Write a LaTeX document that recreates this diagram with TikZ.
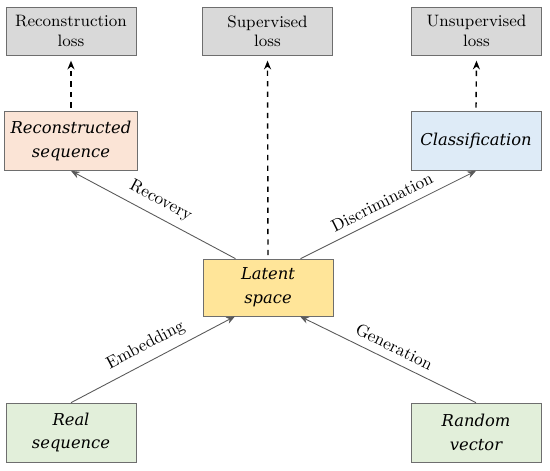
\documentclass[tikz,border=0pt]{standalone}
\usepackage{fontspec}
\usepackage{tikz}
\usetikzlibrary{arrows.meta, positioning}
\newfontfamily\itbox{DejaVu Serif}
\definecolor{lossgray}{RGB}{217,217,217}
\definecolor{recpeach}{RGB}{251,228,214}
\definecolor{clsblue}{RGB}{222,235,247}
\definecolor{latyellow}{RGB}{255,229,153}
\definecolor{inpgreen}{RGB}{226,239,218}
\definecolor{edgegray}{RGB}{110,110,110}

\begin{document}
\begin{tikzpicture}[
  >={Stealth[length=5pt,width=4pt]},
  lossbox/.style={
    draw=edgegray, rectangle, fill=lossgray,
    minimum width=2.6cm, minimum height=0.96cm,
    align=center, font=\fontsize{9.4}{11}\selectfont
  },
  block/.style={
    draw=edgegray, rectangle,
    minimum width=2.6cm, minimum height=1.18cm,
    align=center, font=\itbox\itshape\fontsize{9.3}{13.5}\selectfont
  },
  link/.style={->, draw=black!65, line width=0.5pt},
  lossarrow/.style={->, dashed, thick},
  lbl/.style={sloped, above=1pt, font=\fontsize{9.8}{11}\selectfont}
]
\useasboundingbox (0,0) rectangle (11,-9.4);

% --- Losses ---
\node[lossbox] (recloss)   at (1.42,-0.62) {Reconstruction\\loss};
\node[lossbox] (suploss)   at (5.35,-0.62) {Supervised\\loss};
\node[lossbox] (unsuploss) at (9.53,-0.62) {Unsupervised\\loss};

% --- Outputs ---
\node[block, fill=recpeach] (recseq)  at (1.42,-2.82) {Reconstructed\\sequence};
\node[block, fill=clsblue]  (classif) at (9.52,-2.82) {Classification};

% --- Latent ---
\node[block, fill=latyellow, minimum height=1.14cm] (latent) at (5.36,-5.75) {Latent\\space};

% --- Inputs ---
\node[block, fill=inpgreen] (realseq) at (1.42,-8.65) {Real\\sequence};
\node[block, fill=inpgreen] (randvec) at (9.52,-8.65) {Random\\vector};

\draw[lossarrow] ([yshift=2pt]recseq.north)  -- ([yshift=-3pt]recloss.south);
\draw[lossarrow] ([yshift=2pt]latent.north)  -- ([yshift=-3pt]suploss.south);
\draw[lossarrow] ([yshift=2pt]classif.north) -- ([yshift=-3pt]unsuploss.south);

\draw[link] ([xshift=-0.65cm]latent.north) -- node[lbl]{Recovery} (recseq.south);
\draw[link] ([xshift=0.65cm]latent.north) -- node[lbl]{Discrimination} (classif.south);
\draw[link] (realseq.north) -- node[lbl]{Embedding} ([xshift=-0.66cm]latent.south);
\draw[link] (randvec.north) -- node[lbl]{Generation} ([xshift=0.64cm]latent.south);

\end{tikzpicture}
\end{document}
